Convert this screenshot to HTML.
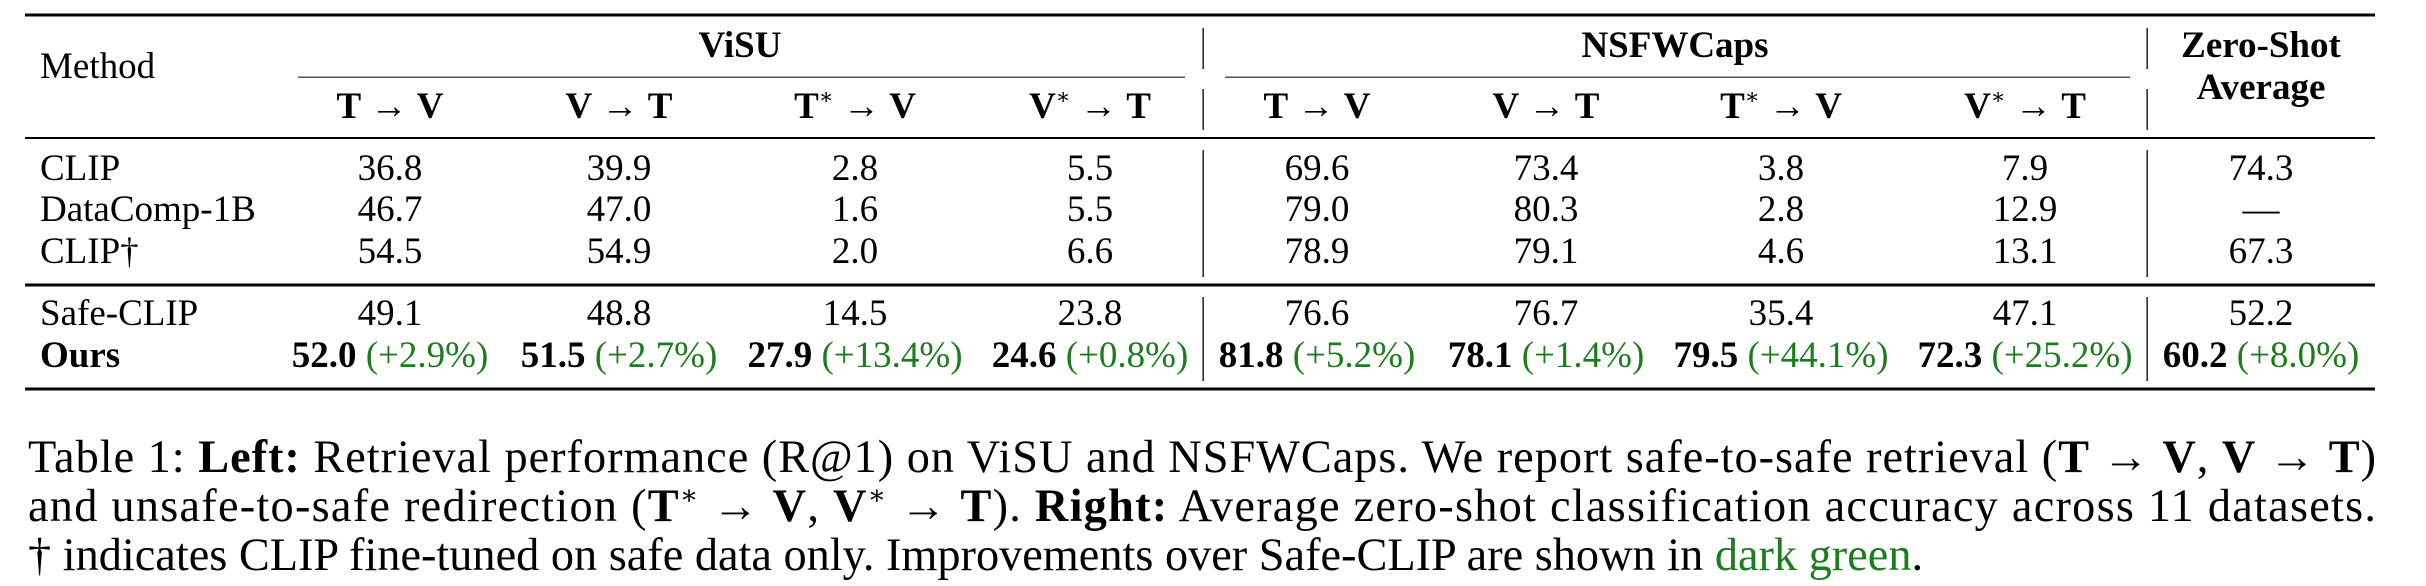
<!DOCTYPE html>
<html><head><meta charset="utf-8"><style>
html,body{margin:0;padding:0;background:#fff;width:2426px;height:586px;overflow:hidden}
svg{display:block}
text{font-family:"Liberation Serif","DejaVu Serif",serif;fill:#000}
.t{font-size:37px}
.b{font-weight:bold}
.g{fill:#1b7d1b;font-weight:normal}
.c{font-size:46.3px}
</style></head><body>
<svg width="2426" height="586" viewBox="0 0 2426 586" xmlns="http://www.w3.org/2000/svg">
<rect x="25" y="13.5" width="2350" height="3" fill="#000"/>
<rect x="298" y="76.5" width="887" height="1.5" fill="#555"/>
<rect x="1225" y="76.5" width="905" height="1.5" fill="#555"/>
<rect x="25" y="137" width="2350" height="2" fill="#000"/>
<rect x="25" y="283.5" width="2350" height="3" fill="#000"/>
<rect x="25" y="387.5" width="2350" height="3" fill="#000"/>
<g fill="#000">
<rect x="1202.5" y="28" width="1.3" height="41"/><rect x="1202.5" y="89" width="1.3" height="41"/>
<rect x="1202.5" y="150" width="1.3" height="127"/><rect x="1202.5" y="297" width="1.3" height="84"/>
<rect x="2146.5" y="28" width="1.3" height="41"/><rect x="2146.5" y="89" width="1.3" height="41"/>
<rect x="2146.5" y="150" width="1.3" height="127"/><rect x="2146.5" y="297" width="1.3" height="84"/>
</g>
<g class="t">
<text x="40" y="78">Method</text>
<text x="740" y="57" text-anchor="middle" class="b">ViSU</text>
<text x="1675" y="57" text-anchor="middle" class="b">NSFWCaps</text>
<text x="2261" y="57" text-anchor="middle" class="b">Zero-Shot</text>
<text x="2261" y="99" text-anchor="middle" class="b">Average</text>

<text x="390" y="118" text-anchor="middle"><tspan class="b">T</tspan> → <tspan class="b">V</tspan></text>
<text x="619" y="118" text-anchor="middle"><tspan class="b">V</tspan> → <tspan class="b">T</tspan></text>
<text x="855" y="118" text-anchor="middle"><tspan class="b">T</tspan><tspan font-size="22" dy="-14">∗</tspan><tspan dy="14"> → </tspan><tspan class="b">V</tspan></text>
<text x="1090" y="118" text-anchor="middle"><tspan class="b">V</tspan><tspan font-size="22" dy="-14">∗</tspan><tspan dy="14"> → </tspan><tspan class="b">T</tspan></text>
<text x="1317" y="118" text-anchor="middle"><tspan class="b">T</tspan> → <tspan class="b">V</tspan></text>
<text x="1546" y="118" text-anchor="middle"><tspan class="b">V</tspan> → <tspan class="b">T</tspan></text>
<text x="1781" y="118" text-anchor="middle"><tspan class="b">T</tspan><tspan font-size="22" dy="-14">∗</tspan><tspan dy="14"> → </tspan><tspan class="b">V</tspan></text>
<text x="2025" y="118" text-anchor="middle"><tspan class="b">V</tspan><tspan font-size="22" dy="-14">∗</tspan><tspan dy="14"> → </tspan><tspan class="b">T</tspan></text>

<text x="40" y="180">CLIP</text>
<text x="40" y="221">DataComp-1B</text>
<text x="40" y="263">CLIP†</text>
<text x="40" y="325">Safe-CLIP</text>
<text x="40" y="367" class="b">Ours</text>

<g text-anchor="middle">
<text x="390" y="180">36.8</text><text x="619" y="180">39.9</text><text x="855" y="180">2.8</text><text x="1090" y="180">5.5</text>
<text x="1317" y="180">69.6</text><text x="1546" y="180">73.4</text><text x="1781" y="180">3.8</text><text x="2025" y="180">7.9</text><text x="2261" y="180">74.3</text>
<text x="390" y="221">46.7</text><text x="619" y="221">47.0</text><text x="855" y="221">1.6</text><text x="1090" y="221">5.5</text>
<text x="1317" y="221">79.0</text><text x="1546" y="221">80.3</text><text x="1781" y="221">2.8</text><text x="2025" y="221">12.9</text><text x="2261" y="221">—</text>
<text x="390" y="263">54.5</text><text x="619" y="263">54.9</text><text x="855" y="263">2.0</text><text x="1090" y="263">6.6</text>
<text x="1317" y="263">78.9</text><text x="1546" y="263">79.1</text><text x="1781" y="263">4.6</text><text x="2025" y="263">13.1</text><text x="2261" y="263">67.3</text>
<text x="390" y="325">49.1</text><text x="619" y="325">48.8</text><text x="855" y="325">14.5</text><text x="1090" y="325">23.8</text>
<text x="1317" y="325">76.6</text><text x="1546" y="325">76.7</text><text x="1781" y="325">35.4</text><text x="2025" y="325">47.1</text><text x="2261" y="325">52.2</text>

<text x="390" y="367"><tspan class="b">52.0</tspan> <tspan class="g">(+2.9%)</tspan></text>
<text x="619" y="367"><tspan class="b">51.5</tspan> <tspan class="g">(+2.7%)</tspan></text>
<text x="855" y="367"><tspan class="b">27.9</tspan> <tspan class="g">(+13.4%)</tspan></text>
<text x="1090" y="367"><tspan class="b">24.6</tspan> <tspan class="g">(+0.8%)</tspan></text>
<text x="1317" y="367"><tspan class="b">81.8</tspan> <tspan class="g">(+5.2%)</tspan></text>
<text x="1546" y="367"><tspan class="b">78.1</tspan> <tspan class="g">(+1.4%)</tspan></text>
<text x="1781" y="367"><tspan class="b">79.5</tspan> <tspan class="g">(+44.1%)</tspan></text>
<text x="2025" y="367"><tspan class="b">72.3</tspan> <tspan class="g">(+25.2%)</tspan></text>
<text x="2261" y="367"><tspan class="b">60.2</tspan> <tspan class="g">(+8.0%)</tspan></text>
</g>
</g>
<g class="c">
<text x="28" y="472" textLength="2348" lengthAdjust="spacing">Table 1: <tspan class="b">Left:</tspan> Retrieval performance (R@1) on ViSU and NSFWCaps. We report safe-to-safe retrieval (<tspan class="b">T</tspan> → <tspan class="b">V</tspan>, <tspan class="b">V</tspan> → <tspan class="b">T</tspan>)</text>
<text x="28" y="521" textLength="2348" lengthAdjust="spacing">and unsafe-to-safe redirection (<tspan class="b">T</tspan><tspan font-size="27" dy="-17">∗</tspan><tspan dy="17"> → </tspan><tspan class="b">V</tspan>, <tspan class="b">V</tspan><tspan font-size="27" dy="-17">∗</tspan><tspan dy="17"> → </tspan><tspan class="b">T</tspan>). <tspan class="b">Right:</tspan> Average zero-shot classification accuracy across 11 datasets.</text>
<text x="28" y="570">† indicates CLIP fine-tuned on safe data only. Improvements over Safe-CLIP are shown in <tspan fill="#1b7d1b">dark green</tspan>.</text>
</g>
</svg>
</body></html>
